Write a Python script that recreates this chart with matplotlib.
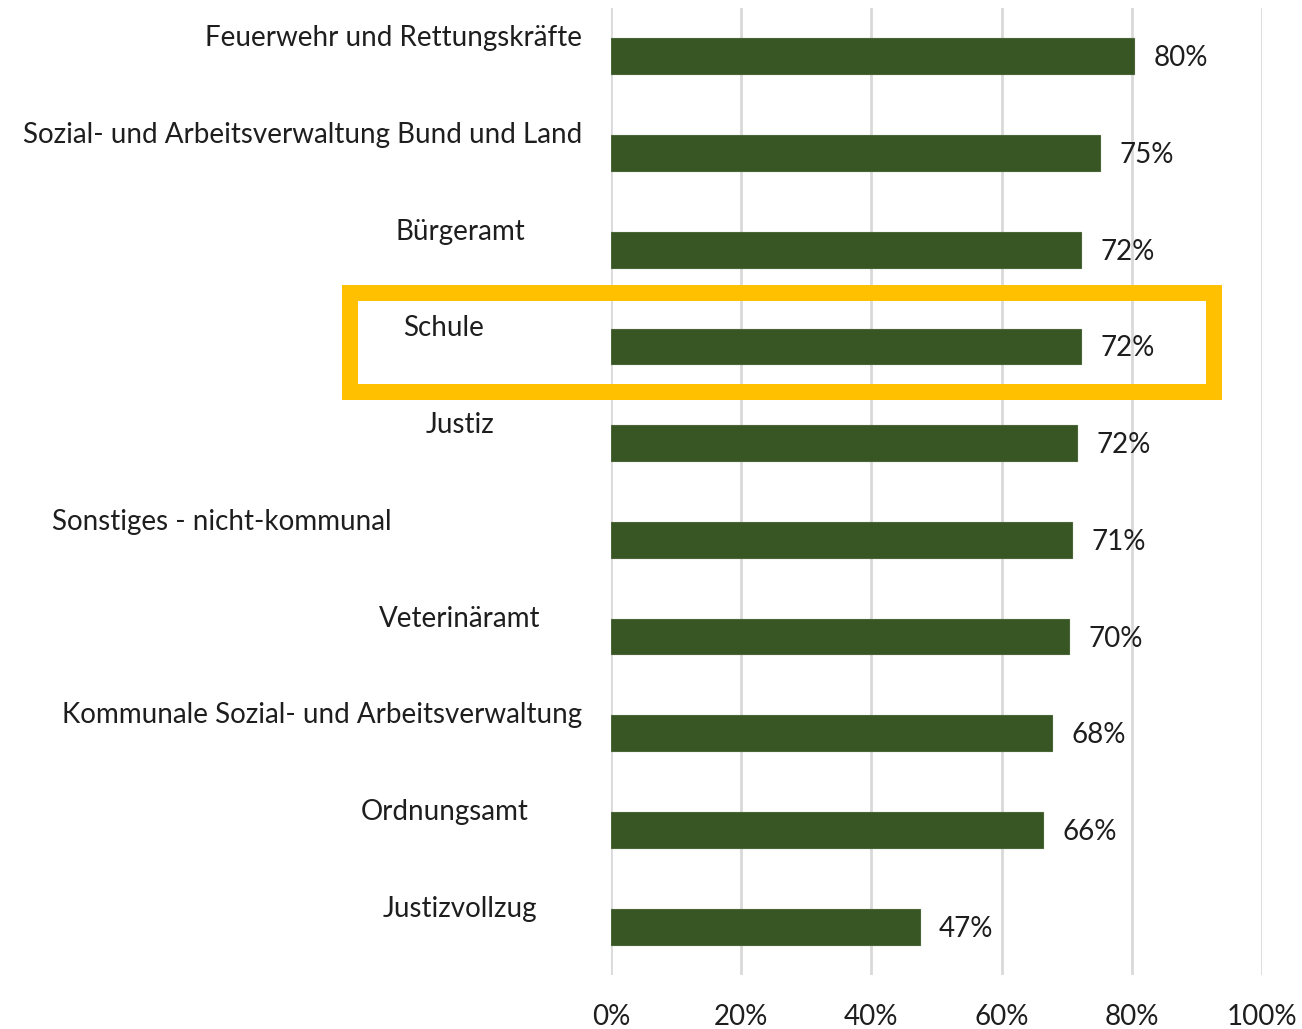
import matplotlib.pyplot as plt
from matplotlib.patches import Rectangle

# --- Daten ---
categories = ["Feuerwehr und Rettungskräfte",
              "Sozial- und Arbeitsverwaltung Bund und Land",
              "Bürgeramt",
              "Schule",
              "Justiz",
              "Sonstiges - nicht-kommunal",
              "Veterinäramt",
              "Kommunale Sozial- und Arbeitsverwaltung",
              "Ordnungsamt",
              "Justizvollzug"]
values = [80.3, 75.1, 72.2, 72.2, 71.6, 70.8, 70.4, 67.7, 66.4, 47.4]
xticks = [0, 20, 40, 60, 80, 100]
highlight = "Schule"

# Beschriftungs-Anker (Pixel x, Ausrichtung) - Layout, keine Daten
label_anchor = [(582, 'right'), (582, 'right'), (460, 'center'), (444, 'center'),
                (460, 'center'), (222, 'center'), (460, 'center'), (582, 'right'),
                (445, 'center'), (460, 'center')]

W, H = 1302, 1029
plt.rcParams['font.family'] = ['Lato', 'DejaVu Sans']
fig = plt.figure(figsize=(W / 100, H / 100), dpi=100)
ax_left, ax_right, ax_top, ax_bot = 611, 1262, 8, 975
ax = fig.add_axes([ax_left / W, 1 - ax_bot / H, (ax_right - ax_left) / W, (ax_bot - ax_top) / H])

green = '#375623'
txt = '#1e1e1e'
fs = 20

ypos = list(range(len(categories)))
ax.barh(ypos, values, height=0.37, color=green, edgecolor='#4a6638', linewidth=0.8, zorder=3)
ax.set_ylim(len(categories) - 0.5, -0.5)
ax.set_xlim(0, 100)

px_per_unit = (ax_bot - ax_top) / len(categories)
for y, v in zip(ypos, values):
    ax.text(v + 3.0, y + 2 / px_per_unit, f"{v:.0f}%", va='center', ha='left',
            fontsize=fs, color=txt)

for y, name, (px, ha) in zip(ypos, categories, label_anchor):
    xd = (px - ax_left) / (ax_right - ax_left) * 100
    ax.text(xd, y - 18 / px_per_unit, name, ha=ha, va='center', fontsize=fs,
            color=txt, clip_on=False)

ax.set_xticks(xticks)
ax.set_xticklabels([f"{t}%" for t in xticks], fontsize=fs, color=txt)
ax.set_yticks([])
ax.tick_params(axis='x', length=0, pad=21)
ax.grid(axis='x', color='#d9d9d9', linewidth=2, zorder=0)
for s in ax.spines.values():
    s.set_visible(False)

# Hervorhebung Schule
i = categories.index(highlight)
x0, x1, y0, y1 = 350, 1214, 293, 392
fig.patches.append(Rectangle((x0 / W, 1 - y1 / H), (x1 - x0) / W, (y1 - y0) / H,
                             transform=fig.transFigure, fill=False,
                             edgecolor='#FFC000', linewidth=11.5, zorder=5))

fig.savefig('out.png', dpi=100)
